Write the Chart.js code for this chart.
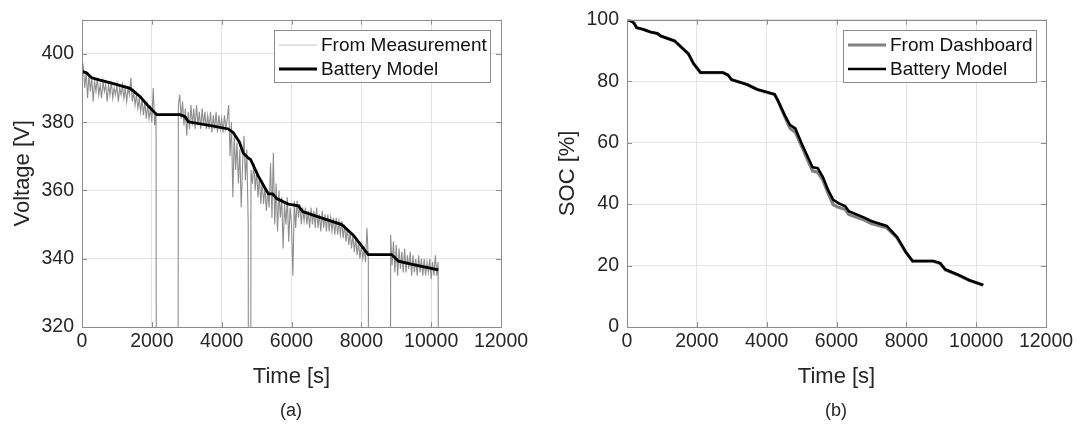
<!DOCTYPE html>
<html>
<head>
<meta charset="utf-8">
<script src="https://cdn.jsdelivr.net/npm/chart.js@4/dist/chart.umd.min.js"></script>
<style>
    body { margin: 0; background: #fff; width: 1081px; height: 429px; overflow: hidden; position: relative; }
    canvas { position: absolute; top: 0; }
    #voltChart { left: 0; }
    #socChart { left: 540px; }
    .caption {
        position: absolute; top: 399px; width: 60px; line-height: 22px; text-align: center;
        font-family: 'Liberation Sans', Arial, sans-serif; font-size: 18px; color: #262626;
    }
</style>
</head>
<body>
<canvas id="voltChart" width="540" height="429"></canvas>
<canvas id="socChart" width="541" height="429"></canvas>
<div class="caption" style="left: 261px">(a)</div>
<div class="caption" style="left: 806px">(b)</div>
<script>
// measured pack voltage, one sample every 40 s (0 = logger dropout)
const measStep = 40
const voltMeas = [
    393, 396, 390, 395, 387, 394, 389, 393, 386, 392,   // 0
    389, 393, 388, 391, 387, 392, 389, 391, 386, 391,   // 400
    388, 392, 387, 390, 388, 391, 386, 390, 388, 391,   // 800
    387, 390, 386, 390, 388, 393, 386, 389, 385, 388,   // 1200
    384, 387, 383, 387, 382, 386, 381, 385, 381, 384,   // 1600
    380, 390, 379, 383, 0, 0, 0, 0, 0, 0,               // 2000
    0, 0, 0, 0, 0, 0, 0, 0, 0, 385,                     // 2400
    388, 381, 386, 379, 384, 376, 383, 378, 385, 379,   // 2800
    384, 378, 385, 379, 383, 378, 384, 379, 383, 378,   // 3200
    382, 378, 383, 377, 382, 378, 383, 377, 382, 378,   // 3600
    381, 377, 382, 378, 381, 385, 370, 380, 358, 376,   // 4000
    366, 374, 362, 372, 355, 368, 376, 363, 372, 350,   // 4400
    0, 366, 362, 368, 360, 366, 358, 364, 356, 363,     // 4800
    356, 361, 354, 360, 355, 368, 352, 371, 350, 362,   // 5200
    348, 360, 352, 358, 343, 356, 350, 358, 345, 355,   // 5600
    350, 335, 357, 349, 357, 352, 356, 350, 355, 351,   // 6000
    355, 350, 354, 349, 355, 350, 354, 349, 355, 349,   // 6400
    353, 348, 354, 349, 353, 348, 353, 348, 352, 348,   // 6800
    352, 347, 352, 347, 351, 347, 351, 346, 350, 345,   // 7200
    349, 344, 348, 343, 347, 342, 346, 341, 345, 340,   // 7600
    344, 340, 343, 339, 349, 340, 0, 0, 0, 0,           // 8000
    0, 0, 0, 0, 0, 0, 0, 0, 0, 0,                       // 8400
    0, 347, 338, 345, 336, 344, 335, 343, 337, 342,     // 8800
    336, 343, 336, 341, 337, 342, 335, 341, 336, 340,   // 9200
    335, 341, 336, 340, 335, 340, 335, 339, 336, 340,   // 9600
    334, 339, 335, 341, 335, 339, 0                     // 10000
]

const voltModelTime = [0, 134, 277, 515, 898, 1375, 1661, 1900, 2138, 2807, 2950, 3045, 3761, 4190, 4334, 4506, 4620,
    4760, 4830, 5050, 5336, 5461, 5576, 5909, 6195, 6321, 6722, 7438, 7771, 8200, 8870, 9060, 9490, 10205]
const voltModel = [394.9, 394.4, 393.0, 392.3, 391.3, 389.9, 387.5, 384.7, 382.2, 382.2, 381.6, 380.1, 378.8, 378.0, 376.9, 374.2, 370.9,
    369.5, 369.0, 364.2, 359.0, 359.0, 357.6, 356.0, 355.5, 353.8, 352.4, 350.0, 346.9, 341.2, 341.2, 339.3, 338.3, 336.7]

const socTime = [0, 128, 198, 277, 474, 672, 869, 968, 1363, 1561, 1758, 1906, 2104, 2746, 2894, 2993, 3437, 3733, 4227, 4326,
    4524, 4672, 4820, 5017, 5314, 5462, 5610, 5758, 5906, 6055, 6252, 6351, 6795, 6993, 7437, 7734, 7981, 8178, 8771, 8968,
    9117, 9463, 9808, 10203]
const socDashboard = [100, 99.5, 98.9, 97.4, 96.8, 96.0, 95.5, 94.7, 93.1, 91.0, 88.9, 85.7, 82.8, 82.8, 82.0, 80.5, 78.9, 77.3, 75.7, 73.6,
    68.3, 64.6, 63.4, 58.4, 50.8, 50.3, 47.8, 43.6, 39.8, 39.0, 38.2, 36.6, 34.8, 33.7, 32.3, 29.0, 24.4, 21.4, 21.4, 20.7,
    18.6, 17.0, 15.1, 13.6]
const socModel = [100, 99.5, 98.9, 97.4, 96.8, 96.0, 95.5, 94.7, 93.1, 91.0, 88.9, 85.7, 82.8, 82.8, 82.0, 80.5, 78.9, 77.3, 75.7, 73.6,
    68.8, 65.7, 64.6, 59.3, 52.0, 51.7, 48.8, 44.6, 41.4, 40.3, 39.3, 37.7, 35.6, 34.5, 32.9, 29.3, 24.5, 21.5, 21.5, 20.8,
    18.7, 17.1, 15.2, 13.7]

const fontFamily = "'Liberation Sans', Arial, sans-serif"
const textColor = '#262626'
const axisColor = '#8c8c8c'
const gridColor = '#e4e4e4'

const toPoints = (xs, ys) => xs.map((x, i) => ({ x: x, y: ys[i] }))

// box, inward tick marks and the boxed legend
const frameAndLegend = {
    id: 'frameAndLegend',
    afterDraw(chart, args, opts) {
        const ctx = chart.ctx
        const { left, right, top, bottom } = chart.chartArea
        const xs = chart.scales.x
        const ys = chart.scales.y
        ctx.save()
        ctx.strokeStyle = axisColor
        ctx.lineWidth = 1
        ctx.beginPath()
        xs.ticks.forEach(t => {
            const px = Math.round(xs.getPixelForValue(t.value)) + 0.5
            ctx.moveTo(px, bottom); ctx.lineTo(px, bottom - 5)
            ctx.moveTo(px, top); ctx.lineTo(px, top + 5)
        })
        ys.ticks.forEach(t => {
            const py = Math.round(ys.getPixelForValue(t.value)) + 0.5
            ctx.moveTo(left, py); ctx.lineTo(left + 5, py)
            ctx.moveTo(right, py); ctx.lineTo(right - 5, py)
        })
        ctx.stroke()
        ctx.strokeRect(Math.round(left) + 0.5, Math.round(top) + 0.5, Math.round(right - left), Math.round(bottom - top))

        // legend
        ctx.font = '19px ' + fontFamily
        const items = chart.data.datasets
        const textW = Math.max(...items.map(d => ctx.measureText(d.label).width))
        const w = Math.round(47 + textW + 3)
        const h = 52
        const bx = Math.round(right - opts.gap - w)
        const by = Math.round(top + 10)
        ctx.fillStyle = '#fff'
        ctx.fillRect(bx, by, w, h)
        ctx.strokeStyle = axisColor
        ctx.strokeRect(bx + 0.5, by + 0.5, w, h)
        items.forEach((d, i) => {
            const y = by + 15 + i * 24
            ctx.strokeStyle = d.legendColor || d.borderColor
            ctx.lineWidth = d.borderWidth
            ctx.beginPath()
            ctx.moveTo(bx + 5, y)
            ctx.lineTo(bx + 43, y)
            ctx.stroke()
            ctx.fillStyle = '#111'
            ctx.textBaseline = 'middle'
            ctx.textAlign = 'left'
            ctx.fillText(d.label, bx + 47, y + 1)
        })
        ctx.restore()
    }
}

function axes(yMin, yMax, yTitle, yWidth, yTitlePad) {
    const tickFont = { size: 19.5, family: fontFamily }
    const titleFont = { size: 22, family: fontFamily }
    return {
        x: {
            type: 'linear',
            min: 0,
            max: 12000,
            afterFit: s => { s.height = 63 },
            ticks: {
                stepSize: 2000, padding: 3, maxRotation: 0, autoSkip: false, color: textColor, font: tickFont,
                callback: v => String(v)
            },
            grid: { color: gridColor, drawTicks: false },
            border: { display: false },
            title: { display: true, text: 'Time [s]', color: textColor, font: titleFont, padding: { top: 0, bottom: 0 } }
        },
        y: {
            min: yMin,
            max: yMax,
            afterFit: s => { s.width = yWidth },
            ticks: { stepSize: 20, includeBounds: false, padding: 8, color: textColor, font: tickFont, callback: v => String(v) },
            grid: { color: gridColor, drawTicks: false },
            border: { display: false },
            title: { display: true, text: yTitle, color: textColor, font: titleFont, padding: { top: yTitlePad, bottom: 0 } }
        }
    }
}

new Chart(document.getElementById('voltChart'), {
    type: 'line',
    data: {
        datasets: [{
            label: 'From Measurement',
            data: voltMeas.map((v, i) => ({ x: i * measStep, y: v })),
            borderColor: '#8e8e8e',
            legendColor: '#c4c4c4',
            borderWidth: 1.1,
            order: 1
        }, {
            label: 'Battery Model',
            data: toPoints(voltModelTime, voltModel),
            borderColor: '#000',
            borderWidth: 2.8,
            order: 0
        }]
    },
    options: {
        responsive: false,
        animation: false,
        elements: { point: { radius: 0 }, line: { tension: 0 } },
        layout: { padding: { top: 12, right: 39, bottom: 39, left: 0 } },
        plugins: {
            legend: { display: false },
            tooltip: { enabled: false },
            frameAndLegend: { gap: 11 }
        },
        scales: axes(320, 410, 'Voltage [V]', 82, 10)
    },
    plugins: [frameAndLegend]
})

new Chart(document.getElementById('socChart'), {
    type: 'line',
    data: {
        datasets: [{
            label: 'From Dashboard',
            data: toPoints(socTime, socDashboard),
            borderColor: '#808080',
            borderWidth: 3.2,
            order: 1
        }, {
            label: 'Battery Model',
            data: toPoints(socTime, socModel),
            borderColor: '#000',
            borderWidth: 2.6,
            order: 0
        }]
    },
    options: {
        responsive: false,
        animation: false,
        elements: { point: { radius: 0 }, line: { tension: 0 } },
        layout: { padding: { top: 12, right: 35, bottom: 39, left: 0 } },
        plugins: {
            legend: { display: false },
            tooltip: { enabled: false },
            frameAndLegend: { gap: 10 }
        },
        scales: axes(0, 100, 'SOC [%]', 87, 15)
    },
    plugins: [frameAndLegend]
})
</script>
</body>
</html>
